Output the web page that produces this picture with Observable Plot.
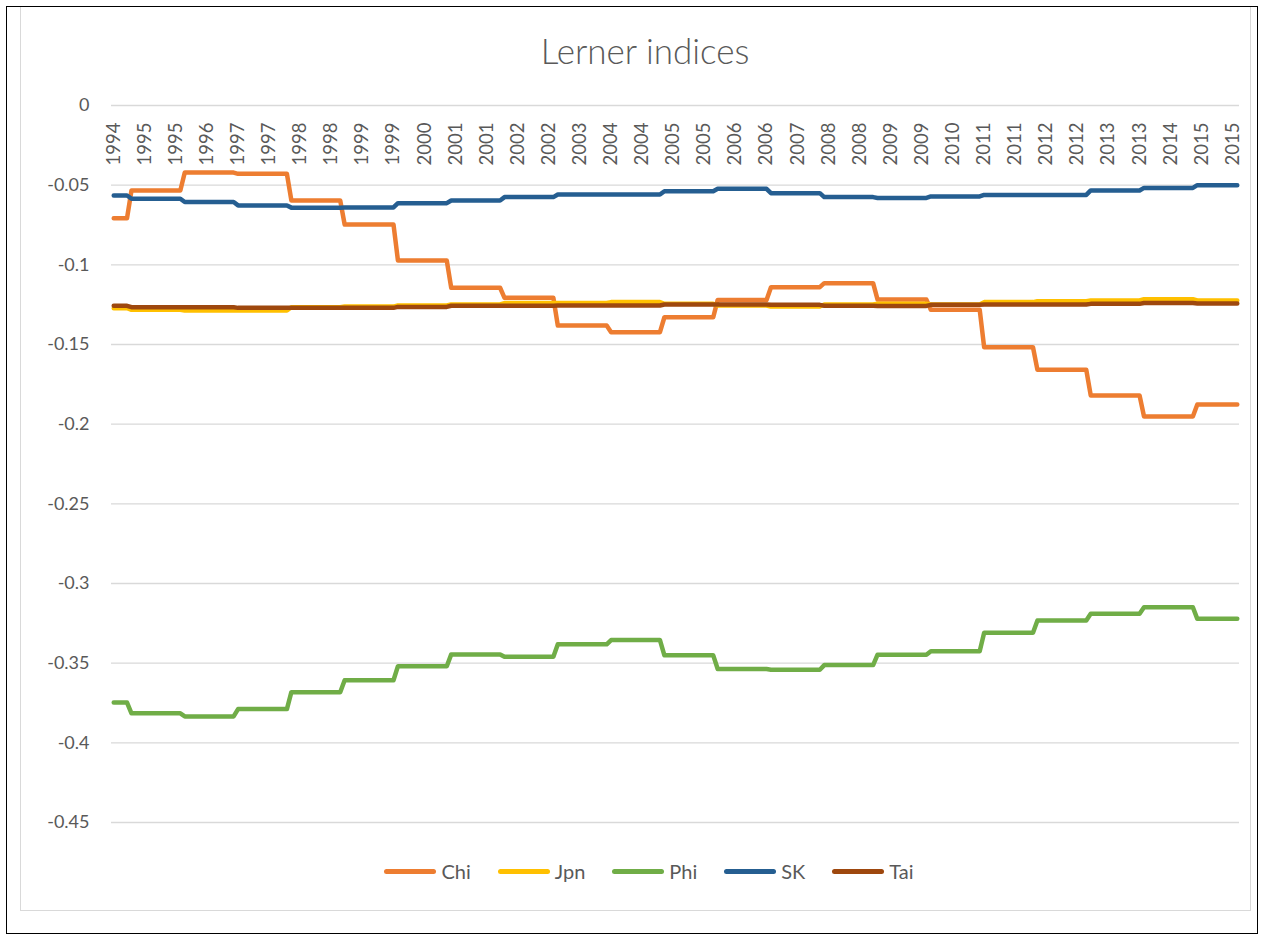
<!DOCTYPE html>
<html>
<head>
<meta charset="utf-8">
<script src="https://cdn.jsdelivr.net/npm/d3@7"></script>
<script src="https://cdn.jsdelivr.net/npm/@observablehq/plot@0.6"></script>
<style>
  html, body { margin: 0; padding: 0; background: #fff; }
  #wrap { position: relative; width: 1265px; height: 940px; overflow: hidden; font-family: Lato, "Open Sans", sans-serif; }
  #outer { position: absolute; left: 6px; top: 6px; width: 1252px; height: 928px; border: 1.5px solid #000; box-sizing: border-box; }
  #inner { position: absolute; left: 20px; top: 7px; width: 1231px; height: 904px; border-left: 1.5px solid #d9d9d9; border-bottom: 1.5px solid #d9d9d9; border-right: 1.5px solid #d9d9d9; box-sizing: border-box; }
  #chart { position: absolute; left: 0; top: 0; }
  #title { position: absolute; left: 0; width: 1290px; top: 29px; text-align: center; font-size: 35px; line-height: 42px; color: #595959; font-family: Lato, sans-serif; font-weight: 300; }
  #legend { position: absolute; top: 859px; left: 0; width: 1298px; display: flex; justify-content: center; gap: 27px; font-size: 20px; color: #595959; }
  .item { display: flex; align-items: center; gap: 5px; }
  .sw { width: 52px; height: 5px; border-radius: 3px; }
</style>
</head>
<body>
<div id="wrap">
  <div id="outer"></div>
  <div id="inner"></div>
  <div id="chart"></div>
  <div id="title">Lerner indices</div>
  <div id="legend"></div>
</div>
<script>
// Annual values (constant within each year), 1994..2015
const years = [1994,1995,1996,1997,1998,1999,2000,2001,2002,2003,2004,2005,2006,2007,2008,2009,2010,2011,2012,2013,2014,2015];
const seriesNames = ["Chi", "Jpn", "Phi", "SK", "Tai"];
const seriesColors = ["#ED7D31", "#FFC000", "#70AD47", "#255E91", "#9E480E"];
const chi = [-0.0707,-0.0533,-0.0421,-0.0429,-0.0596,-0.0747,-0.0973,-0.1144,-0.1207,-0.1381,-0.1423,-0.1329,-0.1220,-0.1140,-0.1115,-0.1218,-0.1282,-0.1517,-0.1659,-0.1820,-0.1952,-0.1877];
const jpn = [-0.1272,-0.1282,-0.1287,-0.1287,-0.1266,-0.1262,-0.1255,-0.1249,-0.1240,-0.1240,-0.1234,-0.1245,-0.1255,-0.1262,-0.1249,-0.1244,-0.1249,-0.1234,-0.1228,-0.1224,-0.1216,-0.1224];
const phi = [-0.3747,-0.3815,-0.3834,-0.3788,-0.3682,-0.3607,-0.3519,-0.3445,-0.3460,-0.3382,-0.3355,-0.3451,-0.3537,-0.3541,-0.3512,-0.3447,-0.3425,-0.3309,-0.3232,-0.3190,-0.3149,-0.3222];
const sk  = [-0.0565,-0.0585,-0.0606,-0.0627,-0.0641,-0.0640,-0.0613,-0.0596,-0.0575,-0.0559,-0.0559,-0.0538,-0.0523,-0.0550,-0.0575,-0.0580,-0.0571,-0.0561,-0.0561,-0.0533,-0.0517,-0.0500];
const tai = [-0.1257,-0.1266,-0.1266,-0.1270,-0.1270,-0.1270,-0.1264,-0.1257,-0.1257,-0.1255,-0.1255,-0.1249,-0.1249,-0.1251,-0.1257,-0.1258,-0.1251,-0.1249,-0.1249,-0.1245,-0.1240,-0.1242];
// Category axis labels (every 7th monthly category, Sep 1994 .. Oct 2015)
const xTickLabels = ["1994","1995","1995","1996","1997","1997","1998","1998","1999","1999","2000","2001","2001","2002","2002","2003","2004","2004","2005","2005","2006","2006","2007","2008","2008","2009","2009","2010","2011","2011","2012","2012","2013","2013","2014","2015","2015"];
const yTicks = [0, -0.05, -0.1, -0.15, -0.2, -0.25, -0.3, -0.35, -0.4, -0.45];

const valuesBySeries = [chi, jpn, phi, sk, tai];
const firstMonth = 8;   // Sep 1994 = category 0
const lastCat = 253;    // Oct 2015
const rows = [];
seriesNames.forEach((name, s) => {
  years.forEach((yr, i) => {
    const start = Math.max(0, 12 * (yr - 1994) - firstMonth);
    const end = Math.min(lastCat, 12 * (yr - 1994) + 11 - firstMonth);
    rows.push({series: name, t: start, v: valuesBySeries[s][i]});
    rows.push({series: name, t: end, v: valuesBySeries[s][i]});
  });
});

const font = "Lato, 'Open Sans', sans-serif";
const chart = Plot.plot({
  width: 1265,
  height: 850,
  marginLeft: 111,
  marginRight: 26,
  marginTop: 105,
  marginBottom: 28,
  style: {color: "#595959", fontFamily: font, background: "transparent"},
  x: {domain: [-0.5, lastCat + 0.5], axis: null},
  y: {domain: [-0.45, 0], axis: null},
  color: {domain: seriesNames, range: seriesColors},
  marks: [
    Plot.ruleY(yTicks, {stroke: "#d9d9d9", strokeWidth: 1.3}),
    Plot.axisY(yTicks, {tickSize: 0, tickPadding: 22, tickFormat: d => String(d), fontSize: 18, label: null, fill: "#595959"}),
    Plot.text(xTickLabels, {x: (d, i) => i * 7, y: () => 0, text: d => d, rotate: -90, textAnchor: "end", dy: 17, fontSize: 18.5, fill: "#595959"}),
    Plot.line(rows, {x: "t", y: "v", z: "series", stroke: "series", strokeWidth: 4.5, strokeLinecap: "round", strokeLinejoin: "round"})
  ]
});
document.getElementById("chart").appendChild(chart);

const legend = document.getElementById("legend");
seriesNames.forEach((name, i) => {
  const item = document.createElement("div");
  item.className = "item";
  const sw = document.createElement("div");
  sw.className = "sw";
  sw.style.background = seriesColors[i];
  const label = document.createElement("span");
  label.textContent = name;
  item.appendChild(sw);
  item.appendChild(label);
  legend.appendChild(item);
});
</script>
</body>
</html>
